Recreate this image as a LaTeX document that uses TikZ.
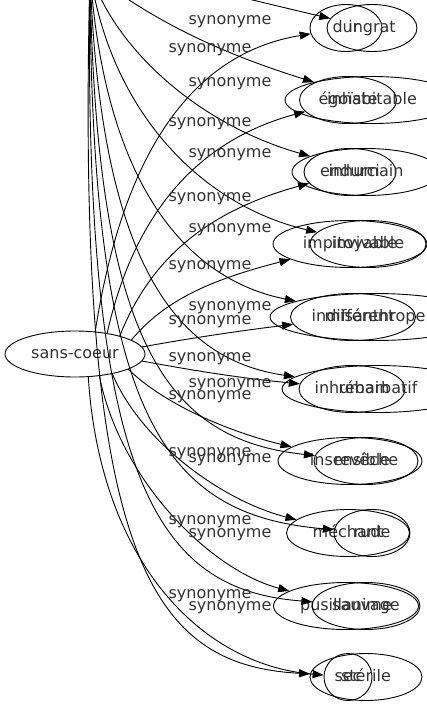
\documentclass[tikz,border=0pt]{standalone}
\usepackage{fontspec}
\setmainfont{DejaVu Sans}
\usetikzlibrary{shapes.geometric,arrows.meta}
\newcommand*{\Rel}{synonyme}

\begin{document}
\begin{tikzpicture}[x=1pt,y=-1pt,
    word/.style={ellipse,draw,line width=0.9pt,inner sep=0pt,minimum height=47pt,text height=12pt,text depth=4pt,text=black!80,font=\fontsize{16}{18}\selectfont},
    rel/.style={inner sep=0pt,text height=12pt,text depth=4pt,text=black!80,font=\fontsize{16}{18}\selectfont},
    link/.style={line width=0.9pt,-{Triangle[length=11pt,width=8pt]}}]
    \useasboundingbox (0,0) rectangle (427,707);
    \clip (0,0) rectangle (427,707);
    \coordinate (hub) at (90,-28);
    \node[word,minimum width=140pt,minimum height=46pt] (sc) at (75,354) {sans-coeur};
    \foreach \n/\x/\y/\w/\t in {dur/346/28/72/dur, egoiste/348/100/97/égoïste,
        endurci/350/172/92/endurci, impitoyable/350/244/154/impitoyable,
        indifferent/353/317/125/indifférent, inhumainL/352/389/106/inhumain,
        insensible/350/461/144/insensible, mechant/348/533/123/méchant,
        pusillanime/346/606/145/pusillanime, sec/348/677/48/sec}
        \node[word,minimum width=\w pt] (\n) at (\x,\y) {\t};
    \foreach \n/\x/\y/\w/\t in {ingrat/372/28/90/ingrat, inhabitable/372/100/174/inhabitable,
        inhumainT/366/172/148/inhumain, invivable/368/244/116/invivable,
        misanthrope/375/317/210/misanthrope, rebarbatif/378/389/192/rébarbatif,
        reveche/366/461/104/revêche, rude/372/533/76/rude,
        sauvage/366/606/108/sauvage, sterile/366/677/112/stérile}
        \node[word,minimum width=\w pt] (\n) at (\x,\y) {\t};
    \foreach \t/\a/\p/\q/\r/\s in {dur/48/125/140/200/52, egoiste/33/135/210/200/140,
        endurci/22/150/260/205/212, impitoyable/14/165/300/210/280,
        indifferent/6/180/340/230/332, inhumainL/-6/180/368/230/377,
        insensible/-16/165/405/230/432, mechant/-28/140/440/220/500,
        pusillanime/-42/120/480/210/570, sec/-60/100/560/200/665}
        \draw[link] (sc.\a) .. controls (\p,\q) and (\r,\s) .. (\t);
    \foreach \t/\p/\q/\r/\s in {ingrat/160/-25/250/0, inhabitable/145/15/210/50,
        inhumainT/115/50/200/125, invivable/110/110/200/205,
        misanthrope/105/190/190/280, rebarbatif/100/270/180/360,
        reveche/95/350/170/440, rude/90/420/165/515,
        sauvage/82/490/160/590, sterile/75/560/150/665}
        \draw[link] (hub) .. controls (\p,\q) and (\r,\s) .. (\t);
    \foreach \y [count=\i] in {48,122,197,265,320,357,395,452,520,594}
        \node[rel] (synL\i) at (210,\y) {\Rel};
    \foreach \y [count=\i] in {20,82,153,228,306,383,458,533,606}
        \node[rel] (synT\i) at (230,\y) {\Rel};
\end{tikzpicture}
\end{document}
